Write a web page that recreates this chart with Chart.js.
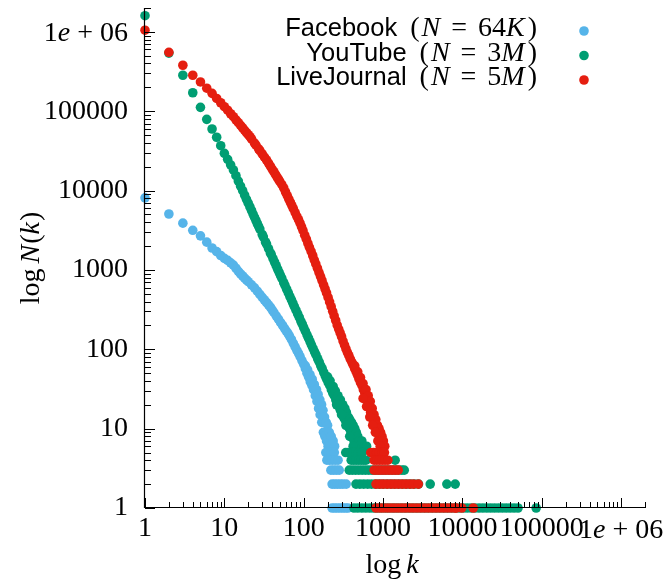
<!DOCTYPE html>
<html>
<head>
<meta charset="utf-8">
<title>Degree distributions</title>
<script src="https://cdn.jsdelivr.net/npm/chart.js@4.4.1/dist/chart.umd.min.js"></script>
<style>
  html, body { margin: 0; padding: 0; background: #ffffff; }
  #chartBox { width: 666px; height: 581px; }
</style>
</head>
<body>
<div id="chartBox">
  <canvas id="degreeChart" width="666" height="581"></canvas>
</div>
<script>
const SERIES_NAMES = ['Facebook', 'YouTube', 'LiveJournal']
const SERIES_SIZE_NUM = ['64', '3', '5']
const SERIES_SIZE_UNIT = ['K', 'M', 'M']

const CHART_COLORS = {
  facebook: '#56B4E9',
  youtube: '#009E73',
  livejournal: '#E51E10',
  axis: '#000000'
}

const AXIS_MIN = 1
const AXIS_MAX = 2000000
const TICK_VALUES = [1, 10, 100, 1000, 10000, 100000, 1000000]
const TICK_LABELS = ['1', '10', '100', '1000', '10000', '100000', '1e + 06']

// Facebook (N = 64K): degree k and count N(k)
const fbK = [1, 2, 3, 4, 5, 6, 7, 8, 9, 10, 11, 12, 13, 14, 15, 16, 17, 18, 19, 20,
  22, 24, 26, 28, 30, 32, 34, 36, 38, 40, 42, 45, 48, 51, 54, 57, 60, 63, 66, 70,
  74, 78, 82, 86, 90, 95, 100, 105, 110, 115, 121, 127, 133, 140, 147, 154, 161,
  169, 177, 185, 194, 203, 212]
const fbN = [8100, 5070, 3890, 3160, 2690, 2240, 1890, 1700, 1520, 1400, 1320, 1230,
  1150, 1050, 962, 891, 839, 791, 748, 711, 649, 596, 540, 492, 452, 418, 389, 363,
  339, 314, 292, 264, 240, 218, 201, 185, 171, 160, 148, 133, 119, 107, 97, 89, 81,
  72, 65, 57, 50, 45, 39, 35, 31, 26, 22, 18, 15, 12, 9, 8, 7, 6, 6]
const fbScatterK = [105, 112, 120, 128, 136, 145, 152, 160, 168, 175, 183, 192, 200, 210, 222, 235, 245]
const fbScatterN = [62, 55, 48, 42, 36, 31, 27, 23, 20, 17, 14, 12, 11, 9, 8, 7, 6]
const fbRowN = [5, 4, 3, 2, 1]
const fbRowK = [
  [190, 205, 222, 243],
  [196, 212, 230, 250, 271],
  [220, 238, 258, 280],
  [228, 246, 266, 288, 312, 343],
  [228, 246, 266, 288, 312, 337, 362]
]

// YouTube (N = 3M)
const ytK = [1, 2, 3, 4, 5, 6, 7, 8, 9, 10, 11, 12, 13, 14, 15, 16, 17, 18, 19, 20,
  21, 22, 23, 24, 25, 26, 27, 28, 30, 31, 33, 34, 36, 38, 39, 41, 43, 45, 47, 49,
  51, 53, 56, 58, 61, 64, 67, 70, 73, 76, 80, 84, 88, 92, 96, 100, 105, 110, 115,
  120, 125, 131, 137, 143, 150, 157, 164, 171, 179, 187, 195, 204, 213, 223, 233,
  243, 254, 266, 278, 290, 303, 317, 331, 346, 362, 378, 395, 413, 431, 450]
const ytN = [1600000, 540000, 284000, 171000, 112000, 79000, 59700, 47000, 36800,
  29500, 24800, 21100, 18200, 15400, 13200, 11400, 10000, 8790, 7760, 6930, 6220,
  5610, 5060, 4610, 4210, 3850, 3550, 3270, 2800, 2610, 2250, 2120, 1860, 1640, 1560,
  1390, 1250, 1130, 1020, 933, 850, 783, 692, 640, 571, 513, 462, 420, 382, 348, 311,
  279, 252, 227, 207, 188, 169, 152, 138, 125, 114, 103, 93, 85, 76, 69, 62, 57, 51,
  46, 42, 38, 35, 31, 28, 26, 23, 21, 19, 17, 16, 14, 13, 12, 11, 10, 9, 8, 7, 6]
const ytScatterK = [200, 215, 235, 250, 270, 290, 310, 330, 345, 365, 380, 400, 420,
  440, 460, 480, 500, 540, 580, 620, 260, 300, 340, 380, 420]
const ytScatterN = [45, 40, 34, 30, 26, 23, 20, 18, 16, 14, 13, 12, 11, 10, 9, 8, 7,
  7, 6, 6, 20, 15, 11, 8, 6]
const ytRowN = [5, 4, 3, 2, 1]
const ytRowK = [
  [339, 365, 393, 423, 455, 490, 527, 550],
  [397, 427, 460, 495, 532, 572, 610, 1420],
  [375, 410, 450, 495, 545, 600, 660, 725, 800, 880, 970, 1070, 1180, 1300, 1430,
    1570, 1720, 1850],
  [456, 510, 570, 640, 715, 800, 895, 1000, 1120, 1255, 1400, 1570, 1760, 1970,
    2200, 2470, 2800, 3930, 6370, 8110],
  [430, 480, 540, 605, 680, 760, 850, 950, 1070, 1190, 1340, 1500, 1680, 1880, 2100,
    2350, 2640, 2950, 3310, 3700, 4150, 4650, 5200, 5830, 6530, 7310, 8190, 9170,
    10300, 11500, 12900, 14400, 16200, 18100, 20300, 22700, 25400, 28500, 31900,
    35700, 40000, 44800, 50200, 85000]
]

// LiveJournal (N = 5M)
const ljK = [1, 2, 3, 4, 5, 6, 7, 8, 9, 10, 11, 12, 13, 14, 15, 16, 17, 18, 19, 20,
  21, 22, 24, 25, 27, 28, 30, 32, 34, 36, 38, 40, 42, 44, 46, 48, 50, 53, 56, 59, 62,
  65, 68, 71, 74, 78, 82, 86, 90, 94, 98, 103, 108, 113, 118, 124, 130, 136, 142, 149,
  156, 163, 170, 178, 186, 194, 203, 212, 222, 232, 242, 253, 264, 276, 288, 300, 313,
  327, 341, 356, 371, 387, 404, 421, 439, 458, 478, 499, 520, 542, 565, 590, 615, 641,
  668, 697, 727, 758, 790, 824, 860, 897, 936]
const ljN = [1050000, 553000, 380000, 284000, 234000, 195000, 168000, 145000, 128000,
  114000, 103000, 93000, 85300, 78000, 71800, 66400, 61700, 57500, 53800, 50600,
  47800, 44800, 39600, 37300, 33600, 31900, 29000, 26400, 24300, 22200, 20300, 18700,
  17300, 16000, 14900, 13900, 13000, 11900, 10800, 9600, 8650, 7800, 7080, 6470, 5920,
  5280, 4740, 4300, 3890, 3480, 3130, 2740, 2440, 2160, 1930, 1710, 1510, 1330, 1190,
  1050, 927, 824, 736, 650, 575, 514, 451, 395, 344, 301, 263, 231, 202, 180, 161, 144,
  127, 113, 101, 91, 83, 75, 69, 63, 57, 52, 47, 42, 38, 35, 31, 28, 25, 22, 19, 16,
  14, 12, 11, 10, 9, 8, 7]
const ljScatterK = [440, 480, 520, 560, 610, 650, 690, 730, 770, 810, 850, 890, 930,
  970, 1010, 1050, 560, 620, 680, 740, 800, 860, 920]
const ljScatterN = [62, 52, 44, 37, 31, 26, 22, 18, 15, 13, 11, 10, 9, 8, 7, 6, 24, 19,
  14, 11, 9, 7, 6]
const ljRowN = [5, 4, 3, 2, 1]
const ljRowK = [
  [700, 760, 830, 900, 975, 1040],
  [770, 835, 905, 980, 1060, 1150],
  [770, 840, 915, 1000, 1090, 1190, 1300, 1420, 1550],
  [815, 910, 1010, 1130, 1260, 1400, 1560, 1740, 1940, 2170, 2420, 2780],
  [815, 910, 1010, 1130, 1260, 1400, 1560, 1740, 1940, 2170, 2420, 2700, 3010, 3360,
    3750, 4180, 4660, 5200, 5800, 6470, 7220, 8050, 8400, 9800, 13700]
]

const SERIF = '"Liberation Serif", "Times New Roman", serif'
const SANS = '"Liberation Sans", Arial, sans-serif'
const MATH_FONT = '28px ' + SERIF
const MATH_ITALIC = 'italic 28px ' + SERIF
const NAME_FONT = '25.5px ' + SANS
const POINT_RADIUS = 4.8


function buildPoints(ks, ns, scatterK, scatterN, rowN, rowK) {

  const points = ks.map((k, i) => ({ x: k, y: ns[i] }))

  scatterK.forEach((k, i) => points.push({ x: k, y: scatterN[i] }))

  rowK.forEach((row, j) => {
    row.forEach(k => points.push({ x: k, y: rowN[j] }))
  })

  return points

}


function tickIndex(value) {

  return TICK_VALUES.findIndex(v => Math.abs(v - value) < 1e-6 * v)

}


// plain labels go through Chart.js, the "1e + 06" one is drawn with an italic e
function tickLabel(value) {

  const i = tickIndex(value)

  if (i < 0 || TICK_LABELS[i].includes('e')) {
    return ''
  }

  return TICK_LABELS[i]

}


function expRuns(label) {

  const parts = label.split('e')

  return [
    { text: parts[0], font: MATH_FONT },
    { text: 'e', font: MATH_ITALIC, gap: 7 },
    { text: '+', font: MATH_FONT, gap: 7 },
    { text: parts[1].replace('+', '').trim(), font: MATH_FONT }
  ]

}


function tickKind(value) {

  const exp = Math.floor(Math.log10(value) + 1e-9)

  const m = value / Math.pow(10, exp)

  if (Math.abs(m - Math.round(m)) > 1e-6) {
    return 0
  }

  return Math.round(m) === 1 ? 2 : 1

}


// mixed upright / italic text, drawn run by run
function drawRuns(ctx, runs, x, y, align) {

  let total = 0

  runs.forEach(r => {
    ctx.font = r.font
    r.w = ctx.measureText(r.text).width
    total += r.w + (r.gap || 0)
  })

  let cx = x
  if (align === 'right') cx = x - total
  if (align === 'center') cx = x - total / 2

  runs.forEach(r => {
    ctx.font = r.font
    ctx.fillText(r.text, cx, y)
    cx += r.w + (r.gap || 0)
  })

}


const gnuplotFrame = {

  id: 'gnuplotFrame',

  afterDraw(chart) {

    const ctx = chart.ctx
    const area = chart.chartArea
    const xs = chart.scales.x
    const ys = chart.scales.y

    ctx.save()

    ctx.strokeStyle = CHART_COLORS.axis
    ctx.lineWidth = 1.2

    // axis lines (left and bottom only)
    ctx.beginPath()
    ctx.moveTo(Math.round(area.left) - 0.5, area.top)
    ctx.lineTo(Math.round(area.left) - 0.5, area.bottom)
    ctx.moveTo(area.left, Math.round(area.bottom) - 0.5)
    ctx.lineTo(area.right, Math.round(area.bottom) - 0.5)
    ctx.stroke()

    // inward ticks
    ctx.lineWidth = 1
    ctx.beginPath()

    ys.ticks.forEach(t => {
      const kind = tickKind(t.value)
      if (!kind) return
      const len = kind === 2 ? 10 : 6
      const py = Math.round(ys.getPixelForValue(t.value)) + 0.5
      ctx.moveTo(area.left, py)
      ctx.lineTo(area.left + len, py)
    })

    xs.ticks.forEach(t => {
      const kind = tickKind(t.value)
      if (!kind) return
      const len = kind === 2 ? 10 : 6
      const px = Math.round(xs.getPixelForValue(t.value)) + 0.5
      ctx.moveTo(px, area.bottom)
      ctx.lineTo(px, area.bottom - len)
    })

    ctx.stroke()

    ctx.fillStyle = '#000000'
    ctx.textAlign = 'left'
    ctx.textBaseline = 'alphabetic'

    // exponent tick labels
    TICK_VALUES.forEach((v, i) => {
      if (!TICK_LABELS[i].includes('e')) return
      const runs = expRuns(TICK_LABELS[i])
      drawRuns(ctx, runs, xs.getPixelForValue(v), 538, 'center')
      drawRuns(ctx, expRuns(TICK_LABELS[i]), area.left - 17, ys.getPixelForValue(v) + 9, 'right')
    })

    // x title: log k
    drawRuns(ctx, [
      { text: 'log', font: MATH_FONT, gap: 5 },
      { text: 'k', font: MATH_ITALIC }
    ], 392, 573, 'center')

    // y title: log N(k)
    ctx.save()
    ctx.translate(39, 258)
    ctx.rotate(-Math.PI / 2)
    drawRuns(ctx, [
      { text: 'log', font: MATH_FONT, gap: 5 },
      { text: 'N', font: MATH_ITALIC, gap: 1 },
      { text: '(', font: MATH_FONT },
      { text: 'k', font: MATH_ITALIC, gap: 1 },
      { text: ')', font: MATH_FONT }
    ], 0, 0, 'center')
    ctx.restore()

    // key, top right
    chart.data.datasets.forEach((ds, i) => {
      const baseY = 36 + i * 24.5
      drawRuns(ctx, [
        { text: SERIES_NAMES[i], font: NAME_FONT, gap: 13 },
        { text: '(', font: MATH_FONT, gap: 2 },
        { text: 'N', font: MATH_ITALIC, gap: 11 },
        { text: '=', font: MATH_FONT, gap: 11 },
        { text: SERIES_SIZE_NUM[i], font: MATH_FONT },
        { text: SERIES_SIZE_UNIT[i], font: MATH_ITALIC, gap: 3 },
        { text: ')', font: MATH_FONT }
      ], 537, baseY, 'right')

      ctx.fillStyle = ds.backgroundColor
      ctx.beginPath()
      ctx.arc(584, baseY - 5, POINT_RADIUS, 0, Math.PI * 2)
      ctx.fill()
      ctx.fillStyle = '#000000'
    })

    ctx.restore()

  }

}


function axisOptions(position, padding) {

  return {
    type: 'logarithmic',
    position,
    min: AXIS_MIN,
    max: AXIS_MAX,
    grid: { display: false, drawTicks: false },
    border: { display: false },
    ticks: {
      autoSkip: false,
      minRotation: 0,
      maxRotation: 0,
      padding,
      color: '#000000',
      font: { family: SERIF, size: 28 },
      callback: tickLabel
    }
  }

}


const xAxis = axisOptions('bottom', 4)
xAxis.afterFit = scale => {
  scale.height = 73
  scale.paddingLeft = 0
  scale.paddingRight = 0
}

const yAxis = axisOptions('left', 17)
yAxis.afterFit = scale => {
  scale.width = 145
  scale.paddingTop = 0
  scale.paddingBottom = 0
}


const canvas = document.getElementById('degreeChart')

new Chart(canvas, {

  type: 'scatter',

  data: {
    datasets: [
      {
        label: SERIES_NAMES[0],
        data: buildPoints(fbK, fbN, fbScatterK, fbScatterN, fbRowN, fbRowK),
        backgroundColor: CHART_COLORS.facebook,
        borderColor: CHART_COLORS.facebook,
        order: 3
      },
      {
        label: SERIES_NAMES[1],
        data: buildPoints(ytK, ytN, ytScatterK, ytScatterN, ytRowN, ytRowK),
        backgroundColor: CHART_COLORS.youtube,
        borderColor: CHART_COLORS.youtube,
        order: 2
      },
      {
        label: SERIES_NAMES[2],
        data: buildPoints(ljK, ljN, ljScatterK, ljScatterN, ljRowN, ljRowK),
        backgroundColor: CHART_COLORS.livejournal,
        borderColor: CHART_COLORS.livejournal,
        order: 1
      }
    ]
  },

  options: {
    responsive: false,
    animation: false,
    devicePixelRatio: 1,
    events: [],
    layout: {
      padding: { left: 0, right: 21, top: 8, bottom: 0 }
    },
    elements: {
      point: {
        radius: POINT_RADIUS,
        borderWidth: 0,
        hoverRadius: POINT_RADIUS
      }
    },
    datasets: {
      scatter: { clip: false }
    },
    scales: {
      x: xAxis,
      y: yAxis
    },
    plugins: {
      legend: { display: false },
      tooltip: { enabled: false },
      title: { display: false }
    }
  },

  plugins: [gnuplotFrame]

})
</script>
</body>
</html>
